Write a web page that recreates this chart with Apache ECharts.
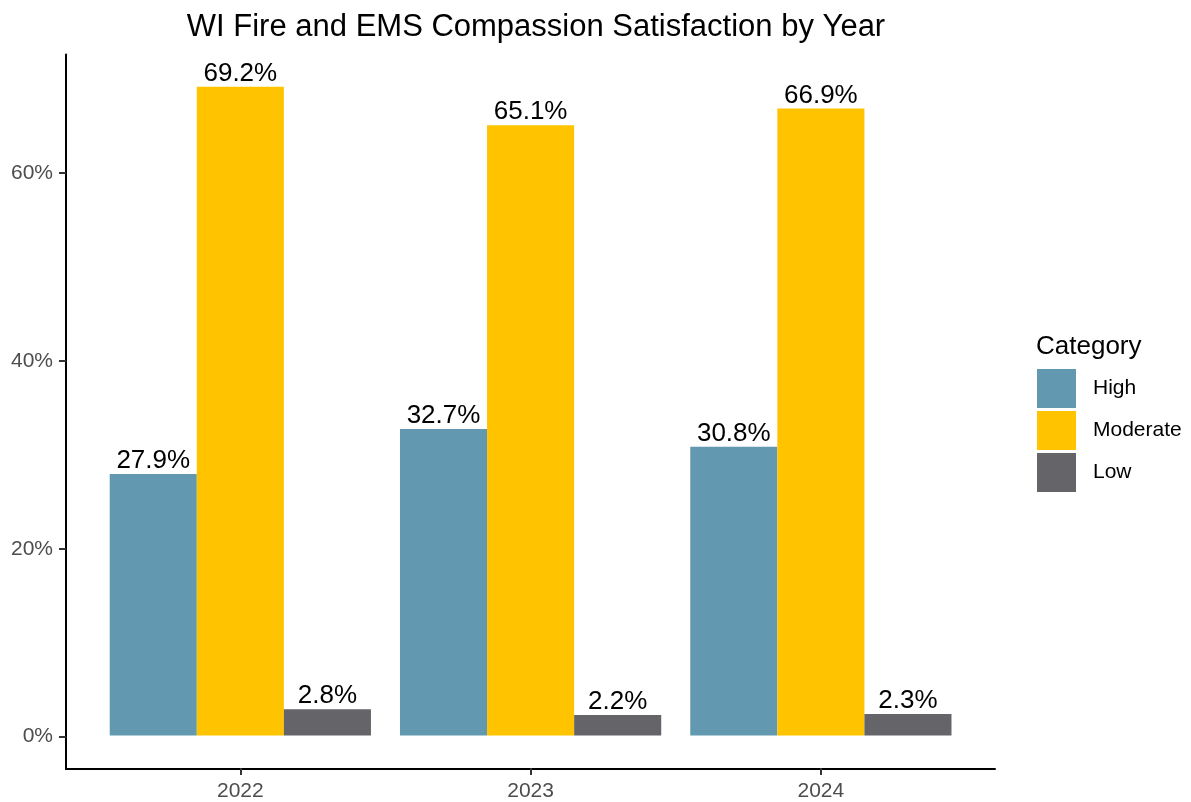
<!DOCTYPE html>
<html>
<head>
<meta charset="utf-8">
<title>WI Fire and EMS Compassion Satisfaction by Year</title>
<script src="https://cdn.jsdelivr.net/npm/echarts@6/dist/echarts.min.js"></script>
<style>
  html, body { margin: 0; padding: 0; background: #ffffff; }
  #chart { width: 1191px; height: 802px; }
</style>
</head>
<body>
<div id="chart"></div>
<script>
// Survey results: share of respondents per compassion satisfaction level
const years = ['2022', '2023', '2024'];
const categoryNames = ['High', 'Moderate', 'Low'];
const highValues = [27.9, 32.7, 30.8];
const moderateValues = [69.2, 65.1, 66.9];
const lowValues = [2.8, 2.2, 2.3];
const yTickValues = [0, 20, 40, 60];

const palette = { High: '#6299B0', Moderate: '#FFC300', Low: '#656569' };
const FONT = '"Liberation Sans", Arial, Helvetica, sans-serif';

// Value axis padded by 5% of the data range on both ends
const allValues = highValues.concat(moderateValues, lowValues);
const pad = 0.05 * Math.max(...allValues);
const yMin = -pad;
const yMax = Math.max(...allValues) + pad;

const seriesValues = [highValues, moderateValues, lowValues];

const chart = echarts.init(document.getElementById('chart'), null, { renderer: 'canvas' });

const gridTop = 54.4;
const gridBottom = 33;

chart.setOption({
  backgroundColor: '#ffffff',
  animation: false,
  title: [
    {
      text: 'WI Fire and EMS Compassion Satisfaction by Year',
      left: 531,
      textAlign: 'center',
      top: 7,
      textStyle: { fontFamily: FONT, fontSize: 31, fontWeight: 'normal', color: '#000000' }
    },
    {
      text: 'Category',
      left: 1031,
      top: 329,
      textStyle: { fontFamily: FONT, fontSize: 26, fontWeight: 'normal', color: '#000000' }
    }
  ],
  legend: {
    orient: 'vertical',
    left: 1032,
    top: 364,
    itemWidth: 39,
    itemHeight: 39,
    itemGap: 3,
    icon: 'rect',
    data: categoryNames,
    textStyle: { fontFamily: FONT, fontSize: 21, color: '#000000', padding: [3, 0, 0, 12] }
  },
  grid: [
    // bars
    { left: 95.2, right: 1191 - 966, top: gridTop, bottom: gridBottom, containLabel: false },
    // panel frame with the axis lines and y labels
    { left: 66, right: 1191 - 995, top: gridTop, bottom: gridBottom, containLabel: false }
  ],
  xAxis: [
    {
      type: 'category',
      gridIndex: 0,
      data: years,
      axisLine: { show: false, onZero: false },
      axisTick: { show: true, alignWithLabel: true, length: 7, lineStyle: { color: '#333333', width: 2 } },
      axisLabel: { fontFamily: FONT, fontSize: 21, color: '#4D4D4D', margin: 13 },
      splitLine: { show: false }
    },
    {
      type: 'value',
      gridIndex: 1,
      min: 0,
      max: 1,
      axisLine: { show: true, onZero: false, lineStyle: { color: '#000000', width: 2 } },
      axisTick: { show: false },
      axisLabel: { show: false },
      splitLine: { show: false }
    }
  ],
  yAxis: [
    {
      type: 'value',
      gridIndex: 0,
      min: yMin,
      max: yMax,
      show: false,
      splitLine: { show: false }
    },
    {
      type: 'value',
      gridIndex: 1,
      min: yMin,
      max: yMax,
      axisLine: { show: true, onZero: false, lineStyle: { color: '#000000', width: 2 } },
      axisTick: { show: true, length: 7, customValues: yTickValues, lineStyle: { color: '#333333', width: 2 } },
      axisLabel: {
        fontFamily: FONT,
        fontSize: 21,
        color: '#4D4D4D',
        margin: 13,
        customValues: yTickValues,
        formatter: v => Math.round(v) + '%'
      },
      splitLine: { show: false }
    }
  ],
  series: categoryNames.map((name, i) => ({
    name: name,
    type: 'bar',
    xAxisIndex: 0,
    yAxisIndex: 0,
    data: seriesValues[i],
    barGap: '0%',
    barCategoryGap: '10%',
    itemStyle: { color: palette[name] },
    label: {
      show: true,
      position: 'top',
      distance: 0,
      fontFamily: FONT,
      fontSize: 26,
      color: '#000000',
      formatter: p => p.value.toFixed(1) + '%'
    }
  }))
});
</script>
</body>
</html>
